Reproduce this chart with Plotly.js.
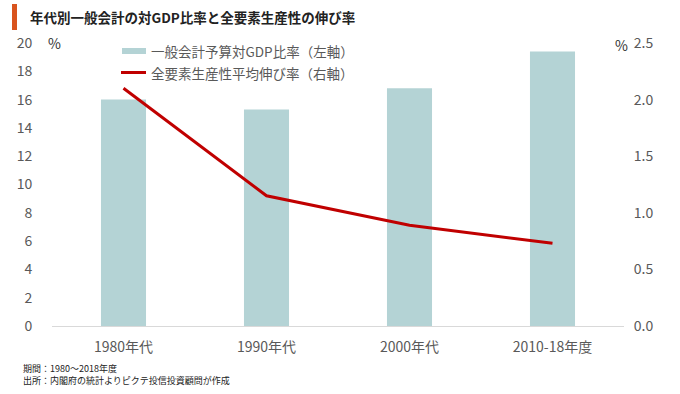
<!DOCTYPE html>
<html><head><meta charset="utf-8">
<script src="https://cdn.plot.ly/plotly-3.0.1.min.js"></script>
<style>html,body{margin:0;padding:0;background:#fff}#chart{width:680px;height:394px}</style>
</head><body><div id="chart"></div>
<script>
const categories = ["1980年代", "1990年代", "2000年代", "2010-18年度"];
const gdpRatio = [16.0, 15.3, 16.8, 19.4];
const tfpGrowth = [2.10, 1.15, 0.89, 0.73];
const leftTicks = [0,2,4,6,8,10,12,14,16,18,20];
const rightTicks = [0,0.5,1.0,1.5,2.0,2.5];
const seriesNames = ["一般会計予算対GDP比率（左軸）", "全要素生産性平均伸び率（右軸）"];
const footnotes = ["期間：1980～2018年度", "出所：内閣府の統計よりピクテ投信投資顧問が作成"];

const FONT = '"Noto Sans CJK JP", "Noto Sans", sans-serif';
const gray = '#595959';
const barColor = '#b4d3d5', lineColor = '#c00000';

const traces = [
  {type:'bar', x:categories, y:gdpRatio, name:seriesNames[0], marker:{color:barColor}, yaxis:'y', showlegend:false},
  {type:'scatter', mode:'lines', x:categories, y:tfpGrowth, name:seriesNames[1], line:{color:lineColor, width:3}, yaxis:'y2', showlegend:false}
];

const L=52, R=56, T=43, B=68, W=680, H=394;
const pw = W-L-R, ph = H-T-B;
function px(x){return (x-L)/pw;}
function py(y){return (H-B-y)/ph;}

const layout = {
  width:W, height:H,
  margin:{l:L, r:R, t:T, b:B, pad:0},
  paper_bgcolor:'#fff', plot_bgcolor:'#fff',
  font:{family:FONT, color:gray, size:14},
  bargap:0.685,
  showlegend:false,
  title:{text:'年代別一般会計の対GDP比率と全要素生産性の伸び率', x:30/W, xanchor:'left', xref:'container', y:1-18/H, yanchor:'middle', yref:'container', font:{family:FONT, size:13.5, color:'#222', weight:'bold'}},
  xaxis:{showgrid:false, showline:true, linecolor:'#d9d9d9', linewidth:1, ticks:'outside', ticklen:8, tickcolor:'rgba(0,0,0,0)', tickfont:{size:14, color:gray}, zeroline:false},
  yaxis:{range:[0,20], tickvals:leftTicks, showgrid:false, zeroline:false, showline:false, ticks:'outside', ticklen:16, tickcolor:'rgba(0,0,0,0)', tickfont:{size:14, color:gray}},
  yaxis2:{range:[0,2.5], tickvals:rightTicks, tickformat:'.1f', overlaying:'y', side:'right', showgrid:false, zeroline:false, showline:false, ticks:'outside', ticklen:6, tickcolor:'rgba(0,0,0,0)', tickfont:{size:14, color:gray}},
  shapes:[
    {type:'rect', xref:'paper', yref:'paper', x0:px(12), x1:px(17), y0:py(30), y1:py(4), fillcolor:'#d9541e', line:{width:0}},
    {type:'rect', xref:'paper', yref:'paper', x0:px(122), x1:px(146), y0:py(54), y1:py(48), fillcolor:barColor, line:{width:0}},
    {type:'line', xref:'paper', yref:'paper', x0:px(121), x1:px(146), y0:py(72.5), y1:py(72.5), line:{color:lineColor, width:3}}
  ],
  annotations:[
    {text:seriesNames[0], xref:'paper', yref:'paper', x:px(149), y:py(51), xanchor:'left', yanchor:'middle', showarrow:false, font:{size:13.5, color:gray}},
    {text:seriesNames[1], xref:'paper', yref:'paper', x:px(149), y:py(73), xanchor:'left', yanchor:'middle', showarrow:false, font:{size:13.5, color:gray}},
    {text:'%', xref:'paper', yref:'paper', x:px(54), y:py(43), xanchor:'center', yanchor:'middle', showarrow:false, font:{size:14, color:'#333'}},
    {text:'%', xref:'paper', yref:'paper', x:px(621), y:py(45), xanchor:'center', yanchor:'middle', showarrow:false, font:{size:14, color:'#333'}},
    {text:footnotes.join('<br>'), xref:'paper', yref:'paper', x:px(21), y:py(375), xanchor:'left', yanchor:'middle', align:'left', showarrow:false, font:{size:9, color:'#222'}}
  ]
};
Plotly.newPlot('chart', traces, layout, {displayModeBar:false, staticPlot:true});
</script></body></html>
